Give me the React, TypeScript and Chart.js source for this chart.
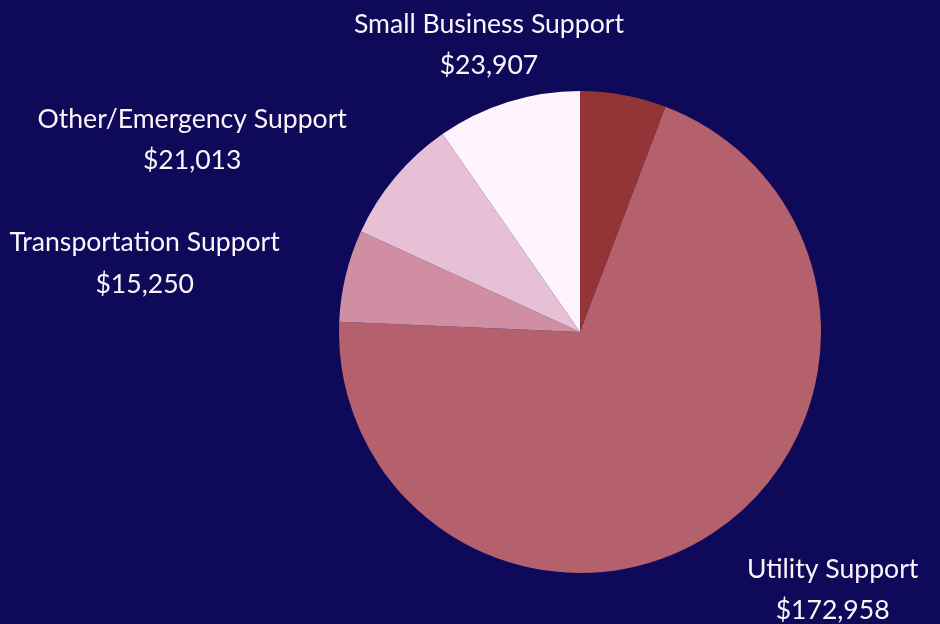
import React, { useEffect, useRef } from "react";
import { Chart, registerables } from "chart.js";

Chart.register(...registerables);

const categories = [
  "",
  "Utility Support",
  "Transportation Support",
  "Other/Emergency Support",
  "Small Business Support",
];
const values = [14272, 172958, 15250, 21013, 23907];
const valueLabels = ["", "$172,958", "$15,250", "$21,013", "$23,907"];
const sliceColors = ["#933436", "#b5606d", "#d08ea3", "#e7c0d5", "#fff3fd"];

// label placement: offset from the outer mid-point of each slice
const labelOffsets = [
  [0, 0],
  [120, 55],
  [-201, -14],
  [-203, -39],
  [-19, -59],
];

const BG = "#0f095a";
const TEXT = "#fdf3fb";

const bgPlugin = {
  id: "bg",
  beforeDraw(chart: any) {
    const { ctx, width, height } = chart;
    ctx.save();
    ctx.fillStyle = BG;
    ctx.fillRect(0, 0, width, height);
    ctx.restore();
  },
};

const labelPlugin = {
  id: "outLabels",
  afterDatasetsDraw(chart: any) {
    const { ctx } = chart;
    const meta = chart.getDatasetMeta(0);
    ctx.save();
    ctx.fillStyle = TEXT;
    ctx.font = "26.6px Lato, 'DejaVu Sans', sans-serif";
    ctx.textAlign = "center";
    ctx.textBaseline = "alphabetic";
    meta.data.forEach((arc: any, i: number) => {
      if (!categories[i]) return;
      const p = arc.getProps(["x", "y", "startAngle", "endAngle", "outerRadius"], true);
      const mid = (p.startAngle + p.endAngle) / 2;
      const ox = p.x + Math.cos(mid) * p.outerRadius;
      const oy = p.y + Math.sin(mid) * p.outerRadius;
      const cx = ox + labelOffsets[i][0];
      const cy = oy + labelOffsets[i][1];
      ctx.fillText(categories[i], cx, cy - 10.5);
      ctx.fillText(valueLabels[i], cx, cy + 31);
    });
    ctx.restore();
  },
};

export default function App() {
  const ref = useRef<HTMLCanvasElement>(null);
  useEffect(() => {
    document.body.style.margin = "0";
    document.body.style.background = BG;
    const chart = new Chart(ref.current as HTMLCanvasElement, {
      type: "pie",
      data: {
        labels: categories,
        datasets: [
          {
            data: values,
            backgroundColor: sliceColors,
            borderWidth: 0,
          },
        ],
      },
      options: {
        animation: false,
        responsive: false,
        maintainAspectRatio: false,
        layout: { padding: { left: 339, right: 119, top: 91, bottom: 51 } },
        plugins: {
          legend: { display: false },
          tooltip: { enabled: false },
        },
      },
      plugins: [bgPlugin, labelPlugin],
    });
    return () => chart.destroy();
  }, []);
  return (
    <div style={{ width: 940, height: 624, background: BG }}>
      <canvas ref={ref} width={940} height={624} style={{ display: "block" }} />
    </div>
  );
}
